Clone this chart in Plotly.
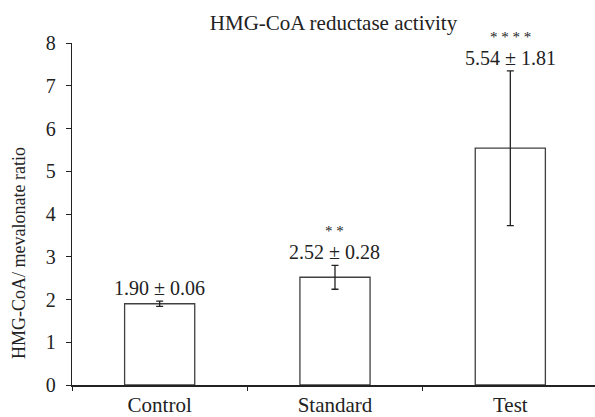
import plotly.graph_objects as go

categories = ["Control", "Standard", "Test"]
means = [1.90, 2.52, 5.54]
errors = [0.06, 0.28, 1.81]
stars = ["", "* *", "* * * *"]
title_text = "HMG-CoA reductase activity"
y_title = "HMG-CoA/ mevalonate ratio"
y_ticks = [0, 1, 2, 3, 4, 5, 6, 7, 8]

FONT = "Liberation Serif"
INK = "#222222"

fig = go.Figure()
fig.add_trace(go.Bar(
    x=categories, y=means, width=0.4,
    marker=dict(color="white", line=dict(color="#404040", width=1.3)),
    error_y=dict(type="data", array=errors, visible=True,
                 color=INK, thickness=1.3, width=3.5),
    showlegend=False, hoverinfo="skip",
))

annotations = []
for c, m, e, s in zip(categories, means, errors, stars):
    top = m + e
    annotations.append(dict(
        x=c, y=top, xref="x", yref="y", text=f"{m:.2f} ± {e:.2f}",
        showarrow=False, yanchor="middle", yshift=13,
        font=dict(family=FONT, size=20, color=INK)))
    if s:
        annotations.append(dict(
            x=c, y=top, xref="x", yref="y", text=s,
            showarrow=False, yanchor="middle", yshift=34,
            font=dict(family=FONT, size=15, color=INK)))

# y-axis title placed as a rotated annotation (it sits below the plot centre in the reference)
annotations.append(dict(
    x=0, y=0.386, xref="paper", yref="paper", text=y_title, textangle=-90,
    showarrow=False, xanchor="center", yanchor="middle", xshift=-53,
    font=dict(family=FONT, size=18, color=INK)))

fig.update_layout(
    width=595, height=417,
    margin=dict(l=72, r=0, t=43, b=32),
    paper_bgcolor="white", plot_bgcolor="white",
    font=dict(family=FONT, size=18, color=INK),
    title=dict(text=title_text, x=0.5, xanchor="center", xref="paper",
               y=1 - 23 / 417, yanchor="middle", yref="container",
               font=dict(family=FONT, size=21, color=INK)),
    annotations=annotations,
    bargap=0.6,
)
fig.update_xaxes(
    range=[-0.5, 2.483], showline=True, linecolor=INK, linewidth=1.5,
    ticks="outside", tickson="boundaries", ticklen=4, tickcolor=INK,
    showgrid=False, zeroline=False,
    tickfont=dict(family=FONT, size=21, color=INK),
)
fig.update_yaxes(
    range=[0, 8], tickvals=y_ticks, showline=True, linecolor=INK, linewidth=1.3,
    ticks="outside", ticklen=5, tickcolor=INK, showgrid=False, zeroline=False,
    ticklabelstandoff=6,
    tickfont=dict(family=FONT, size=20, color=INK),
)
fig.write_html("out.html")
